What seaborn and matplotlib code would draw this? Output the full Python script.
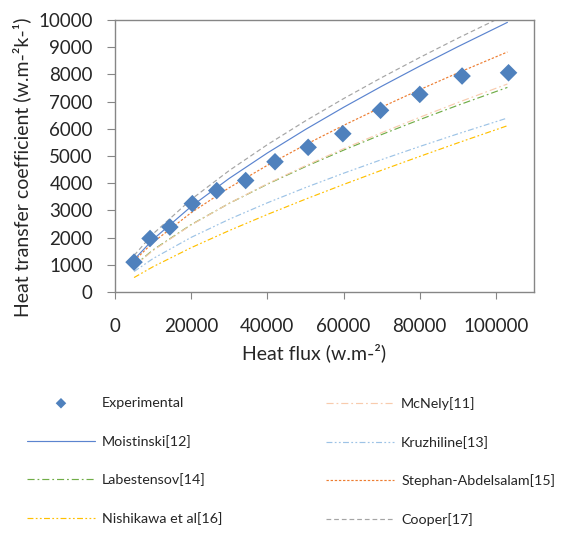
import pandas as pd
import seaborn as sns
import matplotlib.pyplot as plt

sns.set_style("ticks")
plt.rcParams["font.family"] = ["Lato", "DejaVu Sans"]

# experimental points
exp_flux = [5000, 9200, 14400, 20300, 26700, 34300, 42000, 50700, 59800, 69700, 80000, 91100, 103300]
exp_htc = [1100, 1970, 2390, 3250, 3730, 4100, 4790, 5320, 5820, 6680, 7265, 7940, 8060]

# correlations, read at these heat flux values
flux = [5000, 10000, 20000, 30000, 40000, 50000, 60000, 70000, 80000, 90000, 103000]
mcnely = [948, 1530, 2468, 3265, 3981, 4645, 5267, 5858, 6424, 6967, 7647]
moistinski = [1192, 1938, 3147, 4180, 5113, 5977, 6791, 7565, 8305, 9019, 9912]
kruzhiline = [756, 1233, 2011, 2678, 3281, 3841, 4368, 4870, 5352, 5816, 6397]
labestensov = [970, 1551, 2480, 3263, 3965, 4612, 5217, 5791, 6339, 6865, 7522]
stephan = [1145, 1828, 2919, 3838, 4660, 5418, 6127, 6799, 7440, 8056, 8824]
nishikawa = [534, 933, 1632, 2262, 2853, 3415, 3955, 4479, 4987, 5484, 6114]
cooper = [1346, 2141, 3406, 4469, 5419, 6293, 7110, 7884, 8622, 9331, 10213]

lines = [
    ("Moistinski[12]", moistinski, "#5B84CF", "-"),
    ("Labestensov[14]", labestensov, "#70AD47", (0, (6, 2.5, 1.5, 2.5))),
    ("Nishikawa et al[16]", nishikawa, "#FFC000", (0, (5, 2, 1.5, 2, 1.5, 2))),
    ("McNely[11]", mcnely, "#F8CBAD", (0, (6, 2.5, 1.5, 2.5))),
    ("Kruzhiline[13]", kruzhiline, "#9DC3E6", (0, (5, 2, 1.5, 2, 1.5, 2))),
    ("Stephan-Abdelsalam[15]", stephan, "#ED7D31", (0, (2, 1.5))),
    ("Cooper[17]", cooper, "#A5A5A5", (0, (4, 2.5))),
]

fig, ax = plt.subplots(figsize=(5.61, 5.33), dpi=100)
fig.subplots_adjust(left=0.205, right=0.952, top=0.9625, bottom=0.452)

for name, vals, col, ls in lines:
    sns.lineplot(x=flux, y=vals, ax=ax, color=col, linestyle=ls, linewidth=0.85, label=name)

sns.scatterplot(x=exp_flux, y=exp_htc, ax=ax, marker="D", s=80, color="#4F81BD",
                edgecolor="none", label="Experimental", zorder=5)

ax.set_xlim(0, 110000)
ax.set_ylim(0, 10000)
ax.set_xticks(range(0, 100001, 20000))
ax.set_yticks(range(0, 10001, 1000))
ax.tick_params(axis="x", labelsize=13.5, length=5, color="#868686", pad=14)
ax.tick_params(axis="y", labelsize=13.5, length=6, color="#868686", pad=10)
for sp in ax.spines.values():
    sp.set_color("#868686")
    sp.set_linewidth(1.0)

ax.set_xlabel("Heat flux (w.m-²)", fontsize=14)
ax.set_ylabel("Heat transfer coefficient (w.m-²k-¹)", fontsize=14)
ax.xaxis.set_label_coords(0.474, -0.224)
ax.yaxis.set_label_coords(-0.222, 0.458)
ax.xaxis.label.set_va("center")
ax.yaxis.label.set_va("center")

h, l = ax.get_legend_handles_labels()
ax.get_legend().remove()
hd = dict(zip(l, h))
col1 = ["Experimental", "Moistinski[12]", "Labestensov[14]", "Nishikawa et al[16]"]
col2 = ["McNely[11]", "Kruzhiline[13]", "Stephan-Abdelsalam[15]", "Cooper[17]"]
leg_kw = dict(loc="upper left", frameon=False, fontsize=10.3, handlelength=4.75,
              handletextpad=0.5, labelspacing=1.8, borderpad=0, borderaxespad=0,
              markerscale=0.6)
fig.legend([hd[k] for k in col1], col1, bbox_to_anchor=(27 / 561, 1 - 397 / 533), **leg_kw)
fig.legend([hd[k] for k in col2], col2, bbox_to_anchor=(326 / 561, 1 - 397 / 533), **leg_kw)

fig.savefig("out.png", dpi=100)
